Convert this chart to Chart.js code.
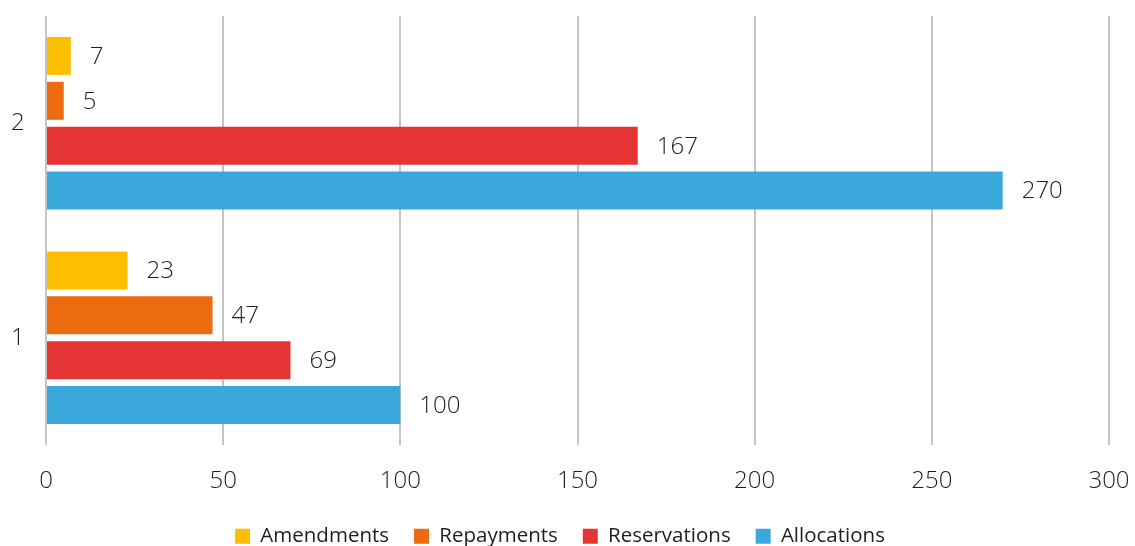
<!DOCTYPE html>
<html>
<head>
<meta charset="utf-8">
<script src="https://cdn.jsdelivr.net/npm/chart.js@4/dist/chart.umd.min.js"></script>
<style>
html,body{margin:0;padding:0;background:#fff;}
#wrap{width:1135px;height:546px;position:relative;}
</style>
</head>
<body>
<div id="wrap"><canvas id="c" width="1135" height="546"></canvas></div>
<script>
const categories = ['2', '1'];
const amendments = [7, 23];
const repayments = [5, 47];
const reservations = [167, 69];
const allocations = [270, 100];
const xTicks = [0, 50, 100, 150, 200, 250, 300];

const seriesNames = ['Amendments', 'Repayments', 'Reservations', 'Allocations'];
const seriesColors = ['#FDBE00', '#EC6B0E', '#E53434', '#3BA8DC'];
const seriesData = [amendments, repayments, reservations, allocations];

const FONT = 'Open Sans';
const TEXT = '#1e1e1e';

const valueLabels = {
  id: 'valueLabels',
  afterDatasetsDraw(chart) {
    const ctx = chart.ctx;
    ctx.save();
    ctx.font = '300 24px "' + FONT + '"';
    ctx.fillStyle = TEXT;
    ctx.textAlign = 'left';
    ctx.textBaseline = 'middle';
    chart.data.datasets.forEach((ds, i) => {
      const meta = chart.getDatasetMeta(i);
      meta.data.forEach((bar, j) => {
        ctx.fillText(String(ds.data[j]), bar.x + 19, bar.y + 1);
      });
    });
    ctx.restore();
  }
};

const legendHeight = {
  id: 'legendHeight',
  beforeLayout(chart) {
    const lg = chart.legend;
    if (lg && !lg._patched) {
      const orig = lg.fit.bind(lg);
      lg.fit = function () { orig(); this.height = 45; };
      lg._patched = true;
    }
  }
};

new Chart(document.getElementById('c'), {
  type: 'bar',
  data: {
    labels: categories,
    datasets: seriesNames.map((n, i) => ({
      label: n,
      data: seriesData[i],
      backgroundColor: seriesColors[i],
      borderWidth: 0,
      categoryPercentage: 0.837,
      barPercentage: 0.845
    }))
  },
  options: {
    indexAxis: 'y',
    responsive: false,
    animation: false,
    devicePixelRatio: 1,
    layout: { padding: { top: 16, right: 26, left: 11, bottom: 0 } },
    scales: {
      x: {
        min: 0, max: 300,
        afterBuildTicks(axis) { axis.ticks = xTicks.map(v => ({ value: v })); },
        afterFit(axis) { axis.height = 56; },
        grid: { color: '#c4c4c4', lineWidth: 2, drawTicks: true, tickLength: 22, tickColor: 'rgba(0,0,0,0)' },
        border: { display: false },
        ticks: { color: TEXT, font: { family: FONT, size: 24, weight: 300 }, padding: 0, maxRotation: 0 }
      },
      y: {
        afterFit(axis) { axis.width = 35; },
        grid: { display: false, drawTicks: false },
        border: { display: false },
        ticks: { color: TEXT, font: { family: FONT, size: 24, weight: 300 }, padding: 0, crossAlign: 'far' }
      }
    },
    plugins: {
      legend: {
        position: 'bottom',
        labels: {
          color: TEXT,
          font: { family: FONT, size: 20.5 },
          boxWidth: 15, boxHeight: 15,
          padding: 25
        }
      },
      tooltip: { enabled: false }
    }
  },
  plugins: [valueLabels, legendHeight]
});
</script>
</body>
</html>
